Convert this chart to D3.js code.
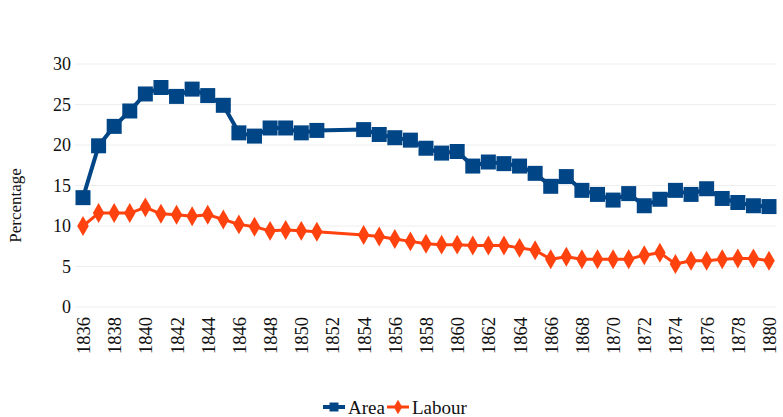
<!DOCTYPE html>
<html>
<head>
<meta charset="utf-8">
<script src="https://cdn.jsdelivr.net/npm/d3@7"></script>
<style>
  body { margin: 0; background: #fff; }
  svg text { font-family: "Liberation Serif", "Times New Roman", Times, "DejaVu Serif", serif; }
</style>
</head>
<body>
<svg width="783" height="417"></svg>
<script>
// years with data (1852 and 1853 are missing in the source)
const years = [1836,1837,1838,1839,1840,1841,1842,1843,1844,1845,1846,1847,1848,1849,1850,1851,
  1854,1855,1856,1857,1858,1859,1860,1861,1862,1863,1864,1865,1866,1867,1868,1869,1870,
  1871,1872,1873,1874,1875,1876,1877,1878,1879,1880];
const area = [13.5,19.9,22.3,24.2,26.3,27.1,26.0,26.9,26.1,24.9,21.5,21.1,22.1,22.1,21.5,21.8,
  21.9,21.3,20.9,20.6,19.6,19.0,19.2,17.4,17.9,17.7,17.4,16.5,14.9,16.1,14.4,13.9,13.2,
  14.0,12.5,13.3,14.4,13.9,14.6,13.4,12.9,12.5,12.4];
const labour = [10.0,11.6,11.6,11.6,12.3,11.5,11.4,11.2,11.4,10.8,10.2,9.9,9.4,9.5,9.4,9.3,
  8.9,8.7,8.4,8.1,7.8,7.7,7.7,7.6,7.6,7.6,7.3,7.0,5.9,6.2,5.9,5.9,5.9,
  5.9,6.4,6.7,5.3,5.7,5.7,5.9,6.0,6.0,5.7];
const yTicks = [0,5,10,15,20,25,30];
const xTicks = d3.range(1836, 1881, 2);

const series = [
  {name: "Area", values: area, color: "#004586", symbol: d3.symbolSquare, size: 225, width: 4},
  {name: "Labour", values: labour, color: "#ff420e", symbol: d3.symbolDiamond, size: 115, width: 3}
];

const serif = '"Liberation Serif", "Times New Roman", Times, "DejaVu Serif", serif';
const svg = d3.select("svg");
const plotLeft = 75, plotRight = 776, plotTop = 64, plotBottom = 307;

const x = d3.scaleLinear().domain([1836, 1880]).range([83, 769]);
const y = d3.scaleLinear().domain([0, 30]).range([plotBottom, plotTop]);

// gridlines
svg.append("g")
  .selectAll("line")
  .data(yTicks)
  .join("line")
  .attr("x1", plotLeft).attr("x2", plotRight)
  .attr("y1", d => y(d)).attr("y2", d => y(d))
  .attr("stroke", "#eeeeee").attr("stroke-width", 1);

// y axis
const yAxis = svg.append("g")
  .attr("transform", `translate(${plotLeft - 4},0)`)
  .call(d3.axisLeft(y).tickValues(yTicks).tickSize(0).tickPadding(0))
  .attr("font-family", null);
yAxis.select(".domain").remove();
yAxis.selectAll("text")
  .style("font-family", serif)
  .style("font-size", "18px")
  .attr("fill", "#111");

svg.append("text")
  .attr("transform", `translate(21,${(plotTop + plotBottom) / 2 + 20}) rotate(-90)`)
  .attr("text-anchor", "middle")
  .style("font-family", serif)
  .style("font-size", "17px")
  .attr("fill", "#111")
  .text("Percentage");

// x axis
const xAxis = svg.append("g")
  .attr("transform", `translate(0,${plotBottom})`)
  .call(d3.axisBottom(x).tickValues(xTicks).tickSize(0).tickFormat(d3.format("d")))
  .attr("font-family", null);
xAxis.select(".domain").remove();
xAxis.selectAll("text")
  .style("font-family", serif)
  .style("font-size", "18.5px")
  .attr("fill", "#111")
  .attr("text-anchor", "end")
  .attr("transform", "rotate(-90)")
  .attr("x", -10)
  .attr("y", 0)
  .attr("dy", "0.35em");

// lines and markers
const line = d3.line()
  .x((d, i) => x(years[i]))
  .y(d => y(d));

series.forEach(s => {
  svg.append("path")
    .datum(s.values)
    .attr("fill", "none")
    .attr("stroke", s.color)
    .attr("stroke-width", s.width)
    .attr("stroke-linejoin", "round")
    .attr("d", line);
  svg.append("g")
    .selectAll("path")
    .data(s.values)
    .join("path")
    .attr("transform", (d, i) => `translate(${x(years[i])},${y(d)})`)
    .attr("d", d3.symbol(s.symbol, s.size))
    .attr("fill", s.color);
});

// legend
const legend = svg.append("g").attr("transform", "translate(323,407)");
const items = [{s: series[0], x: 0, label: "Area"}, {s: series[1], x: 64, label: "Labour"}];
items.forEach(it => {
  const g = legend.append("g").attr("transform", `translate(${it.x},0)`);
  g.append("line").attr("x1", 0).attr("x2", 22).attr("y1", 0).attr("y2", 0)
    .attr("stroke", it.s.color).attr("stroke-width", it.s.width);
  g.append("path").attr("transform", "translate(11,0)")
    .attr("d", d3.symbol(it.s.symbol, it.s.name === "Area" ? 80 : 60))
    .attr("fill", it.s.color);
  g.append("text").attr("x", 25).attr("dy", "0.35em")
    .style("font-family", serif)
    .style("font-size", "19px").attr("fill", "#111").text(it.label);
});
</script>
</body>
</html>
